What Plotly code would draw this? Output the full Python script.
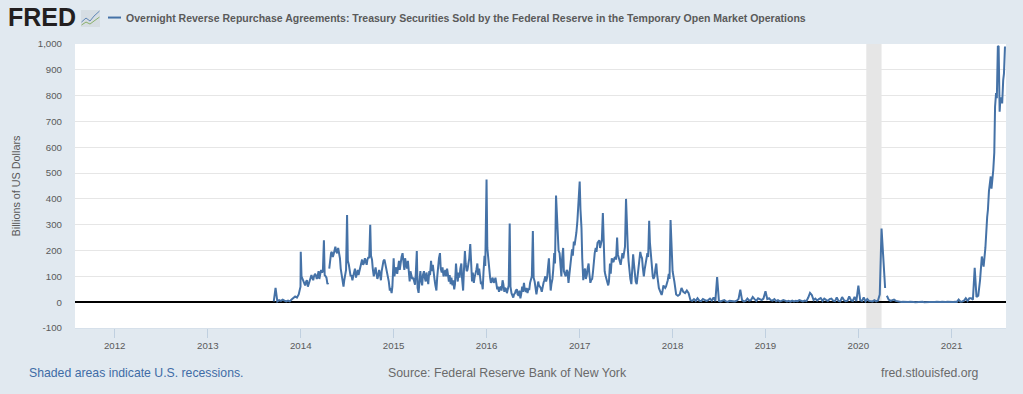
import datetime as dt
import plotly.graph_objects as go

series_name = "Overnight Reverse Repurchase Agreements: Treasury Securities Sold by the Federal Reserve in the Temporary Open Market Operations"
y_title = "Billions of US Dollars"
y_ticks = [-100, 0, 100, 200, 300, 400, 500, 600, 700, 800, 900, 1000]
y_tick_labels = ["-100", "0", "100", "200", "300", "400", "500", "600", "700", "800", "900", "1,000"]
x_tick_dates = ["2012-01-01", "2013-01-01", "2014-01-01", "2015-01-01", "2016-01-01",
                "2017-01-01", "2018-01-01", "2019-01-01", "2020-01-01", "2021-01-01"]
x_tick_labels = ["2012", "2013", "2014", "2015", "2016", "2017", "2018", "2019", "2020", "2021"]
recession = ["2020-02-01", "2020-04-01"]
x_range = ["2011-07-29", "2021-08-03"]
gap_dates = ["2014-04-20", "2020-04-19"]

first_week_2013 = 37
values_2013 = [3, 55, 3, 8, 5, 10, 6, 3, 6, 3, 10, 18, 22, 18, 30, 60]
values_2014 = [195, 90, 70, 80, 60, 75, 105, 85, 110, 90, 120, 105, 115, 240, 100, 70,
               130, 190, 175, 200, 195, 210, 170, 105, 60, 115, 338, 145, 100, 85, 120, 95,
               125, 120, 155, 145, 170, 145, 175, 300, 165, 100, 135, 90, 125, 85, 150, 165,
               140, 100, 45, 35]
values_2015 = [170, 125, 110, 160, 165, 190, 125, 150, 160, 80, 105, 95, 68, 198, 36, 120,
               65, 120, 80, 85, 120, 160, 145, 85, 45, 155, 190, 115, 100, 125, 130, 80,
               70, 65, 50, 150, 80, 95, 150, 45, 198, 120, 145, 225, 80, 75, 110, 150,
               130, 70, 50, 180]
values_2016 = [475, 155, 95, 85, 75, 95, 50, 40, 60, 85, 40, 50, 60, 305, 35, 18,
               35, 50, 25, 15, 60, 75, 40, 35, 50, 90, 276, 80, 30, 80, 60, 40,
               75, 100, 95, 170, 45, 90, 190, 413, 235, 190, 100, 210, 110, 125, 75, 150,
               205, 235, 245, 315]
values_2017 = [467, 288, 85, 130, 105, 150, 75, 90, 165, 210, 230, 240, 225, 345, 120, 90,
               65, 150, 170, 155, 175, 250, 165, 145, 190, 205, 400, 210, 115, 70, 185, 110,
               70, 150, 195, 170, 100, 150, 190, 315, 170, 100, 100, 150, 65, 45, 28, 65,
               55, 70, 110, 318]
values_2018 = [120, 80, 30, 25, 30, 55, 40, 35, 45, 35, 8, 5, 12, 5, 15, 6,
               4, 12, 10, 5, 8, 14, 6, 18, 4, 97, 5, 3, 6, 8, 3, 2,
               5, 4, 2, 3, 6, 12, 48, 8, 3, 5, 14, 6, 8, 20, 12, 5,
               15, 10, 8, 14]
values_2019 = [42, 12, 15, 8, 6, 12, 4, 8, 3, 5, 8, 6, 3, 5, 2, 6,
               3, 5, 4, 8, 5, 3, 6, 4, 18, 36, 28, 8, 14, 6, 12, 16,
               5, 14, 9, 5, 12, 14, 6, 4, 18, 5, 3, 20, 8, 4, 6, 22,
               8, 5, 20, 4]
values_2020 = [64, 8, 5, 18, 3, 12, 5, 4, 3, 8, 3, 6, 30, 285, 145, 55,
               25, 10, 5, 8, 10, 5, 3, 2, 1, 2, 1, 0, 1, 2, 0, 1,
               0, 1, 0, 1, 2, 0, 1, 0, 1, 1, 0, 1, 2, 0, 1, 2,
               0, 1, 2, 1]
values_2021 = [2, 1, 2, 1, 10, 2, 3, 6, 15, 5, 15, 15, 10, 133, 20, 25,
               85, 177, 138, 210, 330, 430, 487, 470, 580, 810, 992, 738, 790, 860, 990]

# readings between the weekly ones above, where the line is densest
midweek_2014 = [100, 80, 65, 85, 70, 85, 95, 100, 105, 100, 90, 125, 120, 105, 95, 75,
                165, 195, 185, 215, 190, 195, 130, 80, 85, 125, 160, 125, 105, 100, 130, 110,
                105, 135, 165, 150, 160, 165, 170, 180, 130, 115, 115, 100, 110, 120, 160, 150,
                120, 80, 55, 60]
midweek_2015 = [100, 135, 145, 125, 175, 150, 170, 130, 115, 120, 90, 85, 110, 55, 75, 85,
                105, 95, 115, 70, 105, 120, 110, 65, 95, 170, 130, 135, 115, 100, 110, 105,
                95, 85, 70, 110, 115, 130, 90, 120, 150, 125, 170, 130, 115, 95, 125, 105,
                95, 80, 115, 140]
midweek_2016 = [210, 115, 75, 95, 80, 65, 60, 55, 45, 70, 55, 35, 65, 60, 25, 30,
                45, 30, 45, 30, 40, 50, 55, 50, 75, 100, 95, 55, 50, 65, 55, 60,
                85, 80, 130, 110, 70, 125, 150, 350, 200, 130, 170, 120, 100, 120, 100, 170,
                180, 220, 270, 380]
midweek_2017 = [360, 170, 115, 90, 130, 110, 85, 115, 190, 195, 235, 210, 240, 240, 105, 75,
                80, 110, 160, 170, 165, 185, 150, 165, 170, 215, 270, 160, 90, 130, 150, 80,
                100, 175, 180, 135, 125, 170, 175, 230, 130, 90, 125, 110, 55, 35, 40, 60,
                60, 85, 90, 210]
first_midweek_2021 = 20
midweek_2021 = [358, 470, 440, 512, 757, 790, 990, 790, 770, 885]

yearly = {
    2013: (first_week_2013, values_2013), 2014: (0, values_2014), 2015: (0, values_2015),
    2016: (0, values_2016), 2017: (0, values_2017), 2018: (0, values_2018),
    2019: (0, values_2019), 2020: (0, values_2020), 2021: (0, values_2021),
}
midweek = {2014: (0, midweek_2014), 2015: (0, midweek_2015), 2016: (0, midweek_2016),
           2017: (0, midweek_2017), 2021: (first_midweek_2021, midweek_2021)}
points = []
for table, shift in ((yearly, 0), (midweek, 3)):
    for year, (start_week, vals) in table.items():
        for i, v in enumerate(vals):
            d = dt.date(year, 1, 1) + dt.timedelta(days=7 * (start_week + i) + shift)
            points.append((d.isoformat(), v))
points += [(g, None) for g in gap_dates]
points.sort(key=lambda p: p[0])
dates = [p[0] for p in points]
values = [p[1] for p in points]

BG = "#e1e9f0"
BLUE = "#4572a7"
GREY = "#5a5a5a"
TICK = "#c0d0e0"

fig = go.Figure()
fig.add_trace(go.Scatter(x=dates, y=values, mode="lines", name=series_name,
                         line=dict(color=BLUE, width=2), connectgaps=False,
                         showlegend=False, hoverinfo="x+y"))
fig.add_shape(type="rect", xref="x", yref="paper", x0=recession[0], x1=recession[1], y0=0, y1=1,
              fillcolor="#e6e6e6", line_width=0, layer="between")

fig.update_layout(
    width=1023, height=394, paper_bgcolor=BG, plot_bgcolor="#ffffff",
    margin=dict(l=75, r=17, t=43.5, b=66), showlegend=False,
    font=dict(family="Liberation Sans, Arial, sans-serif", color=GREY, size=11),
    xaxis=dict(type="date", range=x_range, tickvals=x_tick_dates, ticktext=x_tick_labels,
               ticks="outside", ticklen=9, tickcolor=TICK, tickwidth=1, showgrid=False,
               showline=True, linecolor="#d6e0ea", linewidth=1, zeroline=False,
               ticklabelstandoff=-1, tickfont=dict(size=9.7, color=GREY)),
    yaxis=dict(range=[-100, 1000], tickvals=y_ticks, ticktext=y_tick_labels,
               showgrid=True, gridcolor="#e6e6e6", gridwidth=1, zeroline=True,
               zerolinecolor="#000000", zerolinewidth=2, ticks="", ticklabelstandoff=12,
               tickfont=dict(size=9.7, color=GREY), showline=False,
               title=dict(text=y_title, font=dict(size=10.8, color=GREY), standoff=14)),
    annotations=[
        dict(text="<b>FRED</b>", xref="paper", yref="paper", x=-69 / 931, y=1 + 27 / 284.5,
             xanchor="left", yanchor="middle", showarrow=False,
             font=dict(family="Liberation Sans, Arial, sans-serif", size=25, color="#231f20")),
        dict(text="<b>" + series_name + "</b>", xref="paper", yref="paper", x=49 / 931, y=1 + 26.5 / 284.5,
             xanchor="left", yanchor="middle", showarrow=False,
             font=dict(size=10.53, color=GREY)),
        dict(text="Shaded areas indicate U.S. recessions.", xref="paper", yref="paper",
             x=-48 / 931, y=-45 / 284.5, xanchor="left", yanchor="middle", showarrow=False,
             font=dict(size=12.25, color="#3f6ca6")),
        dict(text="Source: Federal Reserve Bank of New York", xref="paper", yref="paper",
             x=432 / 931, y=-45 / 284.5, xanchor="center", yanchor="middle", showarrow=False,
             font=dict(size=12.35, color="#6a6a6a")),
        dict(text="fred.stlouisfed.org", xref="paper", yref="paper",
             x=906 / 931, y=-45 / 284.5, xanchor="right", yanchor="middle", showarrow=False,
             font=dict(size=12.25, color="#6a6a6a")),
    ],
    shapes=list(fig.layout.shapes) + [
        # legend sample
        dict(type="line", xref="paper", yref="paper", x0=33 / 931, x1=46 / 931,
             y0=1 + 26.5 / 284.5, y1=1 + 26.5 / 284.5, line=dict(color=BLUE, width=2)),
        # FRED logo chart icon
        dict(type="rect", xref="paper", yref="paper", x0=6 / 931, x1=25 / 931,
             y0=1 + 17 / 284.5, y1=1 + 34 / 284.5, fillcolor="#d6dde3", line_width=0),
        dict(type="path", xref="paper", yref="paper",
             path=f"M {6.5/931} {1+22/284.5} L {11/931} {1+26/284.5} L {15/931} {1+23/284.5} L {19/931} {1+28/284.5} L {24.5/931} {1+33/284.5}",
             line=dict(color="#5f86b5", width=1)),
        dict(type="path", xref="paper", yref="paper",
             path=f"M {6.5/931} {1+19/284.5} L {11/931} {1+22/284.5} L {15/931} {1+20/284.5} L {19/931} {1+23/284.5} L {24.5/931} {1+27/284.5}",
             line=dict(color="#8ab06a", width=1)),
    ],
)

fig.write_html("out.html", config={"displayModeBar": False},
               post_script="document.body.style.margin='0';document.body.style.overflow='hidden';document.body.style.background='#e1e9f0';")
